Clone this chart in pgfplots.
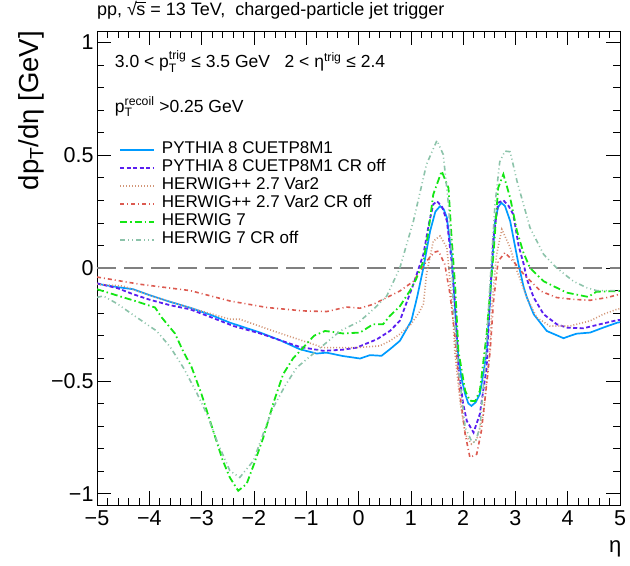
\documentclass[border=0pt]{standalone}
\usepackage{fontspec}
\setmainfont{Liberation Sans}
\usepackage{pgfplots}
\pgfplotsset{compat=1.18}
\definecolor{cBlue}{RGB}{0,155,255}
\definecolor{cPurple}{RGB}{90,30,240}
\definecolor{cBrown}{RGB}{210,150,120}
\definecolor{cRed}{RGB}{220,90,80}
\definecolor{cGreen}{RGB}{20,230,20}
\definecolor{cTeal}{RGB}{140,195,170}
\newcommand{\pT}[1]{$\mathrm{p}_{\mathrm{T}}^{\mathrm{#1}}$}
\begin{document}
\begin{tikzpicture}
\begin{axis}[
  scale only axis, width=523pt, height=474pt,
  xmin=-5, xmax=5, ymin=-1.05, ymax=1.05,
  xtick={-5,-4,-3,-2,-1,0,1,2,3,4,5},
  xticklabels={−5,−4,−3,−2,−1,0,1,2,3,4,5},
  ytick={-1,-0.5,0,0.5,1},
  yticklabels={−1,−0.5,0,0.5,1},
  minor x tick num=4, minor y tick num=4,
  xtick pos=both, ytick pos=both,
  xticklabel pos=bottom, yticklabel pos=left,
  tick align=inside,
  major tick length=14pt, minor tick length=7pt,
  tick style={black, line width=0.6pt},
  axis line style={line width=0.8pt},
  ticklabel style={font=\fontsize{21.5}{24}\selectfont},
  xticklabel style={yshift=-2pt},
  title={pp, √\kern-0.04em\rlap{\rule[0.70em]{0.52em}{0.06em}}s = 13 TeV,\ \ charged-particle jet trigger},
  title style={font=\fontsize{18}{20}\selectfont, at={(axis description cs:0,1.019)}, anchor=base west, inner sep=0pt},
  xlabel={η},
  xlabel style={font=\fontsize{22}{24}\selectfont, at={(axis description cs:1.003,-0.075)}, anchor=north east, inner sep=0pt},
  ylabel={dp\textsubscript{T}/dη [GeV]},
  ylabel style={font=\fontsize{27.5}{30}\selectfont, at={(axis description cs:-0.1,1)}, anchor=south east, inner sep=0pt},
  legend cell align=left,
  legend image code/.code={\draw[#1] (0pt,0pt) -- (34pt,0pt); \path (41pt,0pt);},
  legend style={draw=white, fill=white, inner sep=0pt, row sep=0pt,
    at={(axis description cs:0.042,0.768)}, anchor=north west,
    font=\fontsize{17}{18}\selectfont,
    nodes={inner sep=0pt, text height=12.5pt, text depth=5.5pt}},
]
\coordinate (SW) at (rel axis cs:0,0);
\coordinate (NE) at (rel axis cs:1,1);

\addplot[forget plot, gray, line width=1.2pt, dash pattern=on 19pt off 8pt] coordinates {(-5,0) (5,0)};

% PYTHIA 8 CUETP8M1
\addplot[color=cBlue, line width=1.7pt] coordinates {
(-5,-0.07) (-4.6,-0.085) (-4.31,-0.094) (-4.0,-0.12) (-3.6,-0.15) (-3.22,-0.176) (-2.8,-0.21) (-2.46,-0.242) (-1.88,-0.286) (-1.5,-0.32) (-1.12,-0.36) (-0.8,-0.379) (-0.61,-0.375) (-0.3,-0.39) (0.03,-0.401) (0.22,-0.386) (0.44,-0.389) (0.6,-0.36) (0.79,-0.323) (1.01,-0.234) (1.12,-0.13) (1.24,0) (1.37,0.164) (1.47,0.25) (1.56,0.274) (1.63,0.26) (1.69,0.223) (1.78,0.06) (1.86,-0.23) (1.91,-0.40) (1.98,-0.50) (2.04,-0.559) (2.1,-0.60) (2.16,-0.611) (2.24,-0.595) (2.32,-0.559) (2.4,-0.45) (2.45,-0.367) (2.5,-0.2) (2.55,0) (2.61,0.208) (2.67,0.27) (2.73,0.289) (2.8,0.275) (2.9,0.208) (3.06,0.016) (3.16,-0.087) (3.22,-0.131) (3.35,-0.205) (3.6,-0.279) (3.92,-0.311) (4.04,-0.301) (4.17,-0.291) (4.43,-0.286) (4.68,-0.264) (4.95,-0.242) (5,-0.24)};
\addlegendentry{PYTHIA 8 CUETP8M1}

% PYTHIA 8 CUETP8M1 CR off
\addplot[color=cPurple, line width=1.8pt, dash pattern=on 4pt off 2.5pt] coordinates {
(-5,-0.068) (-4.6,-0.09) (-4.31,-0.116) (-4.0,-0.14) (-3.6,-0.165) (-3.22,-0.183) (-2.8,-0.22) (-2.39,-0.257) (-1.88,-0.29) (-1.5,-0.32) (-1.12,-0.35) (-0.67,-0.367) (-0.3,-0.362) (-0.04,-0.353) (0.35,-0.316) (0.6,-0.279) (0.79,-0.234) (1.05,-0.072) (1.24,0.06) (1.35,0.2) (1.43,0.282) (1.5,0.296) (1.6,0.27) (1.69,0.208) (1.78,0.03) (1.86,-0.205) (1.91,-0.441) (2.0,-0.6) (2.07,-0.677) (2.2,-0.729) (2.32,-0.647) (2.45,-0.441) (2.51,-0.146) (2.58,0.134) (2.67,0.289) (2.77,0.3) (2.87,0.275) (2.96,0.237) (3.06,0.1) (3.16,0.016) (3.22,-0.05) (3.35,-0.131) (3.54,-0.205) (3.79,-0.249) (3.98,-0.264) (4.3,-0.267) (4.62,-0.249) (4.95,-0.231) (5,-0.23)};
\addlegendentry{PYTHIA 8 CUETP8M1 CR off}

% HERWIG++ 2.7 Var2
\addplot[color=cBrown, line width=1.6pt, dash pattern=on 1pt off 2pt] coordinates {
(-5,-0.072) (-4.5,-0.08) (-3.86,-0.131) (-3.22,-0.176) (-2.46,-0.227) (-2.27,-0.227) (-1.63,-0.279) (-1.06,-0.323) (-0.67,-0.353) (-0.04,-0.353) (0.41,-0.345) (0.6,-0.323) (0.79,-0.293) (1.0,-0.25) (1.15,-0.2) (1.24,-0.161) (1.30,-0.028) (1.43,0.119) (1.56,0.142) (1.69,0.09) (1.75,-0.059) (1.81,-0.234) (1.84,-0.367) (1.94,-0.588) (2.04,-0.736) (2.16,-0.78) (2.26,-0.76) (2.39,-0.647) (2.51,-0.367) (2.55,-0.161) (2.64,0.06) (2.74,0.171) (2.9,0.09) (3.03,-0.013) (3.22,-0.131) (3.41,-0.22) (3.66,-0.257) (4.04,-0.257) (4.43,-0.234) (4.68,-0.205) (4.94,-0.183) (5,-0.18)};
\addlegendentry{HERWIG++ 2.7 Var2}

% HERWIG++ 2.7 Var2 CR off
\addplot[color=cRed, line width=1.6pt, dash pattern=on 4pt off 3pt on 1pt off 3pt] coordinates {
(-5,-0.04) (-4.18,-0.072) (-3.22,-0.1) (-2.46,-0.146) (-1.75,-0.175) (-1.06,-0.19) (-0.61,-0.193) (-0.23,-0.173) (0.03,-0.178) (0.28,-0.161) (0.54,-0.131) (0.79,-0.102) (1.05,-0.059) (1.3,0.03) (1.45,0.07) (1.53,0.075) (1.65,0.016) (1.75,-0.116) (1.81,-0.234) (1.84,-0.293) (1.94,-0.559) (2.04,-0.736) (2.13,-0.839) (2.26,-0.825) (2.35,-0.721) (2.45,-0.515) (2.52,-0.36) (2.58,-0.15) (2.67,0.03) (2.8,0.068) (2.96,0.03) (3.16,-0.028) (3.48,-0.102) (3.79,-0.131) (4.11,-0.139) (4.43,-0.143) (4.75,-0.131) (5,-0.116)};
\addlegendentry{HERWIG++ 2.7 Var2 CR off}

% HERWIG 7
\addplot[color=cGreen, line width=1.8pt, dash pattern=on 7pt off 3pt on 1.5pt off 3pt] coordinates {
(-5,-0.094) (-4.5,-0.13) (-4.27,-0.146) (-3.89,-0.175) (-3.76,-0.22) (-3.51,-0.29) (-3.35,-0.37) (-3.19,-0.44) (-3.0,-0.56) (-2.78,-0.72) (-2.6,-0.85) (-2.46,-0.928) (-2.30,-0.987) (-2.14,-0.957) (-2.0,-0.87) (-1.82,-0.751) (-1.63,-0.6) (-1.44,-0.47) (-1.25,-0.40) (-1.06,-0.353) (-0.85,-0.3) (-0.64,-0.279) (-0.5,-0.283) (-0.3,-0.29) (0.03,-0.286) (0.28,-0.249) (0.47,-0.249) (0.6,-0.212) (0.79,-0.17) (0.98,-0.102) (1.1,-0.05) (1.24,0.03) (1.33,0.15) (1.43,0.326) (1.59,0.429) (1.72,0.355) (1.78,0.134) (1.85,-0.087) (1.91,-0.367) (2.04,-0.544) (2.13,-0.588) (2.23,-0.59) (2.32,-0.544) (2.45,-0.293) (2.48,-0.205) (2.58,0.06) (2.67,0.355) (2.77,0.415) (2.9,0.311) (3.03,0.164) (3.15,0.07) (3.28,0) (3.54,-0.059) (3.98,-0.109) (4.39,-0.128) (4.55,-0.105) (5,-0.102)};
\addlegendentry{HERWIG 7}

% HERWIG 7 CR off
\addplot[color=cTeal, line width=1.6pt, dash pattern=on 5pt off 3pt on 1pt off 3pt on 1pt off 3pt] coordinates {
(-5,-0.13) (-4.88,-0.124) (-4.6,-0.16) (-4.37,-0.198) (-3.86,-0.279) (-3.6,-0.35) (-3.35,-0.441) (-3.1,-0.55) (-2.90,-0.647) (-2.7,-0.77) (-2.46,-0.898) (-2.27,-0.928) (-2.01,-0.854) (-1.8,-0.72) (-1.63,-0.618) (-1.4,-0.52) (-1.18,-0.441) (-0.8,-0.367) (-0.35,-0.279) (0.03,-0.235) (0.3,-0.18) (0.54,-0.124) (0.79,0) (1.05,0.208) (1.3,0.459) (1.5,0.565) (1.62,0.503) (1.72,0.282) (1.78,0.06) (1.81,-0.175) (1.91,-0.441) (2.04,-0.707) (2.16,-0.766) (2.23,-0.773) (2.32,-0.707) (2.42,-0.441) (2.51,-0.087) (2.61,0.282) (2.7,0.47) (2.8,0.518) (2.9,0.515) (3.03,0.385) (3.28,0.178) (3.54,0.06) (3.79,0) (4.11,-0.059) (4.36,-0.087) (4.55,-0.1) (5,-0.1)};
\addlegendentry{HERWIG 7 CR off}

\node[anchor=base west, inner sep=0pt, font=\fontsize{17.5}{20}\selectfont] at (axis description cs:0.034,0.922) {3.0 < \pT{trig} ≤ 3.5 GeV\ \ \ 2 < η\textsuperscript{trig} ≤ 2.4};
\node[anchor=base west, inner sep=0pt, font=\fontsize{17.5}{20}\selectfont] at (axis description cs:0.034,0.829) {\pT{recoil} >0.25 GeV};
\end{axis}
\pgfresetboundingbox
\path[use as bounding box] ([shift={(-97pt,-60pt)}]SW) rectangle ([shift={(10pt,31pt)}]NE);
\end{tikzpicture}
\end{document}
